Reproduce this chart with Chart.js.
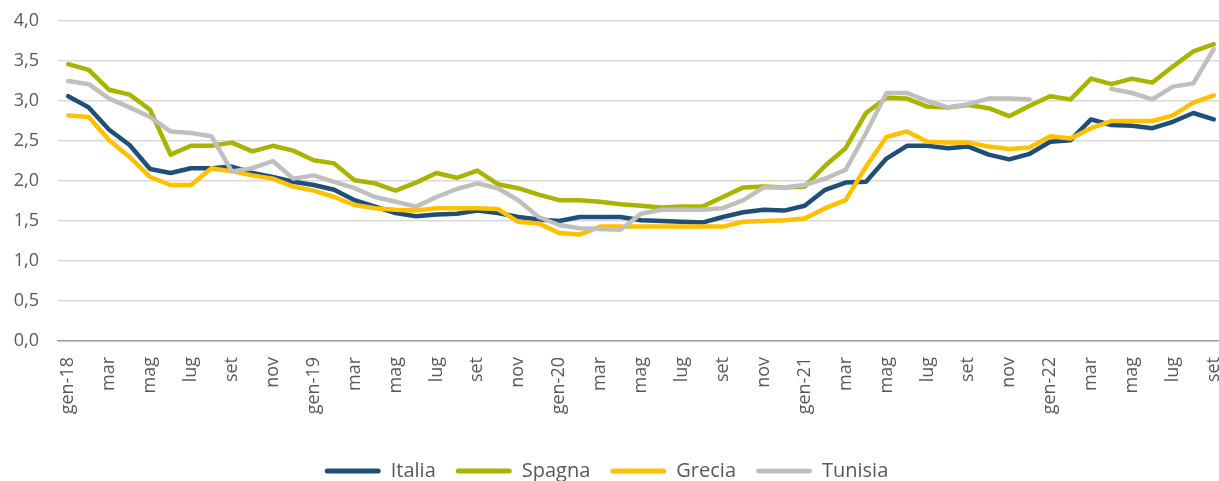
<!DOCTYPE html>
<html>
<head>
<meta charset="utf-8">
<script src="https://cdn.jsdelivr.net/npm/chart.js@4.4.1/dist/chart.umd.min.js"></script>
<style>
  html, body { margin: 0; padding: 0; background: #ffffff; overflow: hidden; }
  #wrap { position: absolute; left: 0; top: 0; width: 1224px; height: 481px; }
</style>
</head>
<body>
<div id="wrap"><canvas id="c" width="1224" height="481"></canvas></div>
<script>
// ---- Data ----
const monthNames = ['gen','feb','mar','apr','mag','giu','lug','ago','set','ott','nov','dic'];
const years = ['18','19','20','21','22'];
const monthsInLastYear = 9;

const seriesNames = ['Italia', 'Spagna', 'Grecia', 'Tunisia'];
const seriesColors = ['#1f4e79', '#aab400', '#ffc000', '#bfbfbf'];

const italia = [3.06, 2.92, 2.64, 2.45, 2.15, 2.10, 2.16, 2.16, 2.18, 2.10,
  2.05, 1.99, 1.95, 1.89, 1.76, 1.68, 1.60, 1.56, 1.58, 1.59,
  1.63, 1.60, 1.55, 1.52, 1.50, 1.55, 1.55, 1.55, 1.51, 1.50,
  1.49, 1.48, 1.55, 1.61, 1.64, 1.63, 1.69, 1.89, 1.98, 1.99,
  2.28, 2.44, 2.44, 2.41, 2.43, 2.33, 2.27, 2.34, 2.49, 2.51,
  2.77, 2.70, 2.69, 2.66, 2.74, 2.85, 2.77];

const spagna = [3.46, 3.39, 3.14, 3.08, 2.89, 2.33, 2.44, 2.44, 2.48, 2.37,
  2.44, 2.38, 2.26, 2.22, 2.01, 1.97, 1.88, 1.98, 2.10, 2.04,
  2.13, 1.96, 1.91, 1.83, 1.76, 1.76, 1.74, 1.71, 1.69, 1.67,
  1.68, 1.68, 1.80, 1.92, 1.93, 1.92, 1.93, 2.19, 2.41, 2.85,
  3.04, 3.03, 2.93, 2.92, 2.95, 2.91, 2.81, 2.94, 3.06, 3.02,
  3.28, 3.21, 3.28, 3.23, 3.43, 3.62, 3.71];

const grecia = [2.82, 2.80, 2.51, 2.30, 2.05, 1.95, 1.95, 2.16, 2.12, 2.07,
  2.03, 1.93, 1.88, 1.80, 1.70, 1.66, 1.64, 1.63, 1.66, 1.66,
  1.66, 1.65, 1.49, 1.47, 1.35, 1.33, 1.43, 1.43, 1.43, 1.43,
  1.43, 1.43, 1.43, 1.49, 1.50, 1.51, 1.53, 1.66, 1.76, 2.18,
  2.55, 2.62, 2.49, 2.48, 2.48, 2.43, 2.40, 2.42, 2.56, 2.53,
  2.66, 2.75, 2.75, 2.75, 2.82, 2.98, 3.07];

const tunisia = [3.25, 3.21, 3.03, 2.92, 2.80, 2.62, 2.60, 2.56, 2.12, 2.16,
  2.25, 2.03, 2.07, 1.99, 1.91, 1.80, 1.74, 1.68, 1.80, 1.90,
  1.97, 1.91, 1.76, 1.55, 1.45, 1.41, 1.40, 1.39, 1.59, 1.64,
  1.64, 1.64, 1.66, 1.76, 1.92, 1.92, 1.95, 2.03, 2.14, 2.60,
  3.10, 3.10, 3.00, 2.92, 2.96, 3.03, 3.03, 3.02, null, null,
  null, 3.15, 3.10, 3.02, 3.18, 3.22, 3.65];

const yTicks = [0, 0.5, 1, 1.5, 2, 2.5, 3, 3.5, 4];

// ---- Build category labels ----
const labels = [];
years.forEach((y, yi) => {
  const n = yi === years.length - 1 ? monthsInLastYear : 12;
  for (let m = 0; m < n; m++) labels.push(m === 0 ? monthNames[m] + '-' + y : monthNames[m]);
});

const seriesData = [italia, spagna, grecia, tunisia];
const datasets = seriesData.map((d, i) => ({
  label: seriesNames[i],
  data: d,
  borderColor: seriesColors[i],
  backgroundColor: seriesColors[i],
  borderWidth: 4.5,
  pointRadius: 0,
  pointHoverRadius: 0,
  tension: 0,
  borderCapStyle: 'round',
  borderJoinStyle: 'round',
  spanGaps: false,
  order: seriesData.length - 1 - i
}));

Chart.defaults.font.family = "'Open Sans', 'Liberation Sans', sans-serif";
Chart.defaults.color = '#595959';

new Chart(document.getElementById('c'), {
  type: 'line',
  data: { labels: labels, datasets: datasets },
  options: {
    responsive: false,
    animation: false,
    devicePixelRatio: 1,
    layout: { padding: { top: 21, left: -11, right: 0, bottom: -10 } },
    plugins: {
      tooltip: { enabled: false },
      legend: {
        position: 'bottom',
        labels: {
          font: { size: 20 },
          color: '#595959',
          boxWidth: 56,
          boxHeight: 5,
          padding: 20,
          sort: (a, b) => a.datasetIndex - b.datasetIndex,
          generateLabels: (chart) => chart.data.datasets.map((ds, i) => ({
            text: ds.label,
            fillStyle: ds.borderColor,
            strokeStyle: ds.borderColor,
            lineWidth: 0,
            borderRadius: 2.5,
            fontColor: '#595959',
            hidden: !chart.isDatasetVisible(i),
            datasetIndex: i
          }))
        }
      }
    },
    scales: {
      x: {
        type: 'category',
        offset: true,
        afterFit: (s) => { s.height = 100; s.paddingLeft = 0; s.paddingRight = 0; },
        grid: { display: true, drawOnChartArea: false, drawTicks: false },
        border: { display: true, color: '#a0a0a0', width: 1.5 },
        ticks: {
          autoSkip: false,
          minRotation: 90,
          maxRotation: 90,
          padding: 16,
          color: '#595959',
          font: { size: 18 },
          callback: function (val, idx) { return idx % 2 === 0 ? this.getLabelForValue(val) : ''; }
        }
      },
      y: {
        min: yTicks[0],
        max: yTicks[yTicks.length - 1],
        afterFit: (s) => { s.width = 69; s.paddingTop = 0; s.paddingBottom = 0; },
        afterBuildTicks: (s) => { s.ticks = yTicks.map(v => ({ value: v })); },
        grid: { color: '#d9d9d9', lineWidth: 1.5, drawTicks: false },
        border: { display: false },
        ticks: {
          padding: 19,
          color: '#595959',
          font: { size: 18 },
          callback: (v) => Number(v).toFixed(1).replace('.', ',')
        }
      }
    }
  }
});
</script>
</body>
</html>
